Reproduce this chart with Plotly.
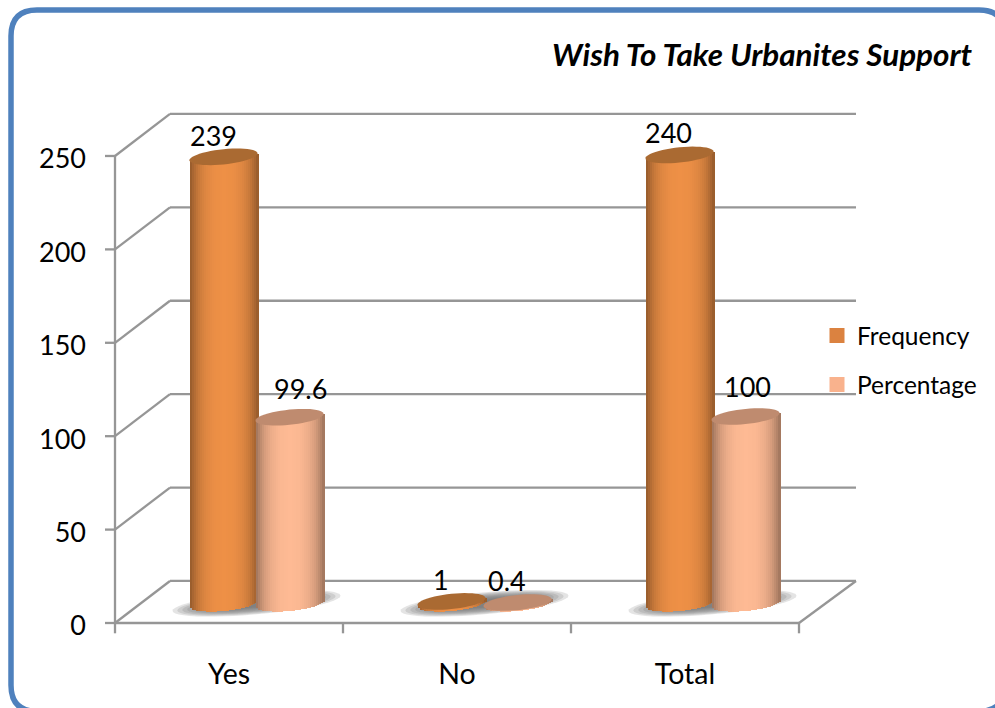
import numpy as np
import plotly.graph_objects as go

# ---- data ----
categories = ["Yes", "No", "Total"]
frequency = [239, 1, 240]
percentage = [99.6, 0.4, 100]
y_ticks = [0, 50, 100, 150, 200, 250]
title_text = "Wish To Take Urbanites Support"

# ---- geometry of the pseudo-3D scene (pixels) ----
W, H = 995, 708
FLOOR_FRONT_PX = 622.7
FLOOR_BARS_PX = 603.0
LABEL_DROP_PX = 3.0             # y tick labels sit slightly below their ticks
PLOT_L, PLOT_R, PLOT_T, PLOT_B = 110, 870, 100, FLOOR_FRONT_PX + LABEL_DROP_PX
AXIS_X_PX = 115.0     # the front-left corner of the chart box
PX_X = 228.0          # pixels per category
PX_Y = 1.867          # pixels per value unit
X0_PX = 229.0         # pixel of first category on the front axis
SHIFT_X = 27.5                  # bars stand this far inside the floor
DEPTH_X, DEPTH_Y = 55.0, 42.0   # back wall offset
CYL_A, CYL_B = 34.0, 7.6        # cylinder ellipse semi axes
SHEAR = 0.10                    # ellipse tilt
STEP = 2                        # gradient slice step
LABEL_DROP = LABEL_DROP_PX / PX_Y

GRID = "#969696"
INK = "#000000"
FONT = "Lato"

x_range = [(PLOT_L - X0_PX) / PX_X, (PLOT_R - X0_PX) / PX_X]
y_top = (PLOT_B - PLOT_T) / PX_Y
y_range = [0, y_top]
x2_range = [x_range[0] - SHIFT_X / PX_X, x_range[1] - SHIFT_X / PX_X]
y2_bottom = -(PLOT_B - FLOOR_BARS_PX) / PX_Y
y2_range = [y2_bottom, y2_bottom + y_top]

BAR_OFF = 33.0  # centre of each cylinder from the category centre, pixels


def rgb(c):
    return "rgb(%d,%d,%d)" % tuple(int(round(v)) for v in c)


def shade(mid, u):
    t = abs(u) / CYL_A
    f = np.interp(t, [0, 0.3, 0.55, 0.75, 0.9, 1.0], [1.0, 0.985, 0.93, 0.84, 0.72, 0.62])
    return rgb([m * f for m in mid])


def px(x):
    return (x - PLOT_L) / (PLOT_R - PLOT_L)


def py(y):
    return (PLOT_B - y) / (PLOT_B - PLOT_T)


fig = go.Figure()

series = [
    dict(name="Frequency", values=frequency, mid=(238, 144, 70), flat="#db8240",
         top="#aa6a32", side=-1),
    dict(name="Percentage", values=percentage, mid=(254, 186, 148), flat="#f9b28d",
         top="#bf8b6f", side=1),
]

for s in series:
    centre = s["side"] * BAR_OFF / PX_X
    vals = np.array(s["values"], dtype=float)
    # solid core: carries the legend entry
    fig.add_trace(go.Bar(
        x=list(range(len(categories))), y=vals,
        width=40 / PX_X, offset=centre - 20 / PX_X,
        marker=dict(color=s["flat"], line=dict(color=s["flat"], width=3)),
        name=s["name"], legendgroup=s["name"], showlegend=True,
        xaxis="x2", yaxis="y2", hoverinfo="skip"))
    # gradient slices across the cylinder
    for left in np.arange(-CYL_A, CYL_A, STEP):
        u = left + STEP / 2
        depth = CYL_B * np.sqrt(max(0.0, 1 - (u / CYL_A) ** 2)) / PX_Y
        sh = u * SHEAR / PX_Y
        fig.add_trace(go.Bar(
            x=list(range(len(categories))),
            y=vals + depth,
            base=[sh - depth] * len(categories),
            width=(STEP + 1) / PX_X,
            offset=centre + left / PX_X,
            marker=dict(color=shade(s["mid"], u), line=dict(width=0)),
            legendgroup=s["name"], showlegend=False,
            xaxis="x2", yaxis="y2", hoverinfo="skip"))

shapes = []
line_style = dict(color=GRID, width=2.3)


def line(x0, y0, x1, y1):
    # wall coordinates: value y on the front axis, corrected for the label drop
    shapes.append(dict(type="line", xref="x", yref="y",
                       x0=x0, y0=y0 + LABEL_DROP, x1=x1, y1=y1 + LABEL_DROP,
                       line=line_style, layer="below"))


dx, dy = DEPTH_X / PX_X, DEPTH_Y / PX_Y
left_edge, right_edge = -0.5, len(categories) - 0.5
right_back = right_edge + dx + 2 / PX_X
for t in y_ticks:
    line(left_edge + dx, t + dy, right_back, t + dy)
    line(left_edge, t, left_edge + dx, t + dy)
    # y tick marks reach left of the plot area, so x is in paper units
    shapes.append(dict(type="line", xref="paper", yref="y", x0=px(AXIS_X_PX - 10), x1=px(AXIS_X_PX),
                       y0=t + LABEL_DROP, y1=t + LABEL_DROP, line=line_style, layer="below"))
line(left_edge, 0, left_edge, y_ticks[-1])
line(left_edge, 0, right_edge, 0)
line(right_edge, 0, right_back, dy)
# category boundary ticks reach below the plot area, so y is in paper units
for b in np.arange(left_edge, right_edge + 1):
    shapes.append(dict(type="line", xref="x", yref="paper", x0=b, x1=b,
                       y0=py(FLOOR_FRONT_PX), y1=py(633), line=line_style, layer="below"))


def ellipse_path(cx_val, cy_val, a, b, shear=SHEAR, n=48):
    th = np.linspace(0, 2 * np.pi, n, endpoint=False)
    xs = a * np.cos(th)
    ys = b * np.sin(th) + xs * shear
    pts = [(cx_val + x / PX_X, cy_val + y / PX_Y) for x, y in zip(xs, ys)]
    return "M" + "L".join("%.5f,%.4f" % p for p in pts) + "Z"


# soft floor shadows: stacked translucent ellipses
for i in range(len(categories)):
    for k in range(9):
        g = 1 - k / 9
        shapes.append(dict(type="path", xref="x2", yref="y2",
                           path=ellipse_path(i, 0.0, 40 + 44 * g, 3 + 8 * g, shear=0.09),
                           fillcolor="rgba(105,105,105,0.18)", line=dict(width=0), layer="below"))

# cylinder caps (percentage first so the frequency cap sits on top where they touch)
for s in reversed(series):
    for i, v in enumerate(s["values"]):
        cx = i + s["side"] * BAR_OFF / PX_X
        shapes.append(dict(type="path", xref="x2", yref="y2",
                           path=ellipse_path(cx, v, CYL_A, CYL_B),
                           fillcolor=s["top"], line=dict(width=0), layer="above"))

# rounded outer frame, in paper coordinates
FL, FT, FR, FB, R = 11, 10, 1005, 711, 26
frame = (f"M{px(FL)},{py(FT + R)} Q{px(FL)},{py(FT)} {px(FL + R)},{py(FT)} "
         f"L{px(FR - R)},{py(FT)} Q{px(FR)},{py(FT)} {px(FR)},{py(FT + R)} "
         f"L{px(FR)},{py(FB - R)} Q{px(FR)},{py(FB)} {px(FR - R)},{py(FB)} "
         f"L{px(FL + R)},{py(FB)} Q{px(FL)},{py(FB)} {px(FL)},{py(FB - R)} Z")
shapes.append(dict(type="path", xref="paper", yref="paper", path=frame,
                   line=dict(color="#4f81bd", width=5.5), layer="above"))

# value labels, individually nudged like the original
label_nudges = {
    "Frequency": [(-10, 21), (-11, 22), (-11, 22)],
    "Percentage": [(11, 29), (-11, 22), (2, 30)],
}
annotations = []
for s in series:
    for i, v in enumerate(s["values"]):
        nx, ny = label_nudges[s["name"]][i]
        annotations.append(dict(x=i + s["side"] * BAR_OFF / PX_X, y=v, xref="x2", yref="y2",
                                text=str(v), showarrow=False, xshift=nx, yshift=ny,
                                xanchor="center", yanchor="middle",
                                font=dict(family=FONT, size=27, color=INK)))

fig.update_layout(
    width=W, height=H,
    margin=dict(l=PLOT_L, r=W - PLOT_R, t=PLOT_T, b=H - PLOT_B, autoexpand=False),
    paper_bgcolor="white", plot_bgcolor="rgba(0,0,0,0)",
    barmode="overlay", bargap=0,
    title=dict(text=title_text, xref="container", yref="container",
               x=972 / W, xanchor="right", y=1 - 55 / H, yanchor="middle",
               font=dict(family=FONT, size=31.4, color=INK, weight=700, style="italic")),
    xaxis=dict(range=x_range, tickmode="array", tickvals=list(range(len(categories))),
               ticktext=categories, ticks="", showgrid=False, zeroline=False, showline=False,
               tickfont=dict(family=FONT, size=28.5, color=INK), ticklabelstandoff=28),
    yaxis=dict(range=y_range, tickmode="array", tickvals=y_ticks, ticks="",
               showgrid=False, zeroline=False,
               showline=False, tickfont=dict(family=FONT, size=27, color=INK),
               ticklabelstandoff=23),
    xaxis2=dict(range=x2_range, overlaying="x", visible=False),
    yaxis2=dict(range=y2_range, overlaying="y", visible=False),
    legend=dict(x=px(817), y=py(313), xanchor="left", yanchor="top",
                bgcolor="rgba(0,0,0,0)", tracegroupgap=14, traceorder="grouped",
                font=dict(family=FONT, size=24.5, color=INK)),
    shapes=shapes, annotations=annotations,
)

fig.write_html("out.html", config=dict(displayModeBar=False),
               post_script="document.body.style.margin='0';document.body.style.overflow='hidden';")
